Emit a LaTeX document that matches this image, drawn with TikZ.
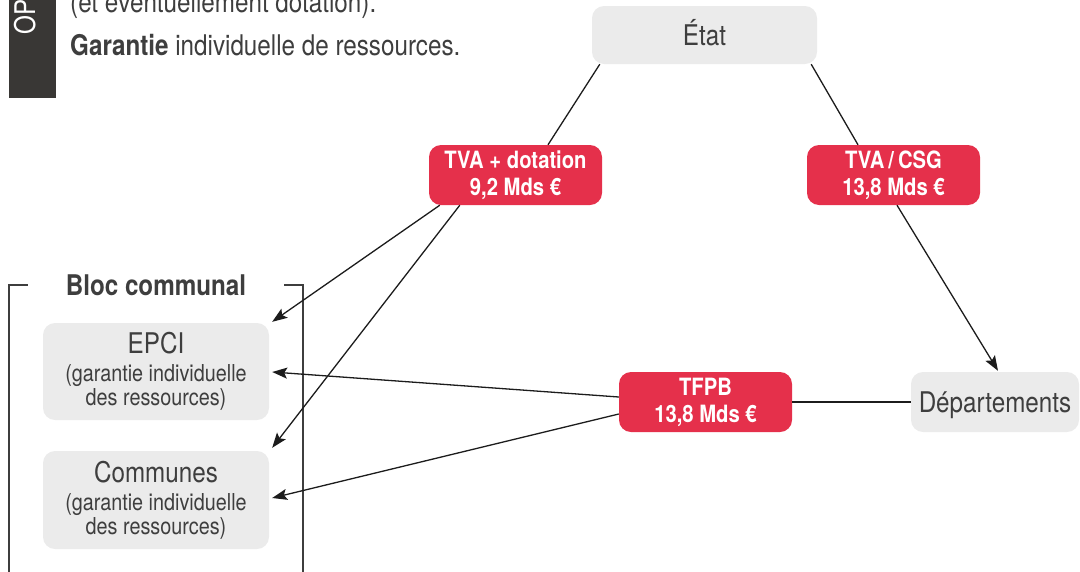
\documentclass[tikz,border=0pt]{standalone}
\usepackage{fontspec}
\setmainfont[FakeStretch=0.85]{TeX Gyre Heros}
\usetikzlibrary{arrows.meta,calc}
\definecolor{flowred}{HTML}{E5304B}
\definecolor{boxgray}{HTML}{EBEBEB}
\definecolor{inkgray}{HTML}{3E3E3E}
\definecolor{tabgray}{HTML}{393735}
\definecolor{linegray}{HTML}{1C1C1C}
\newcommand\labelfont{\fontsize{28.5}{28}\selectfont}
\newcommand\notefont{\fontsize{23.3}{24}\selectfont}
\tikzset{
  entity/.style={draw=none, fill=boxgray, rounded corners=12pt, text=inkgray,
    font=\labelfont, align=center, inner sep=0pt},
  oneline/.style={text height=20.5pt, text depth=0pt},
  flowbox/.style={draw=none, fill=flowred, rounded corners=12pt, text=white,
    font=\bfseries\fontsize{23.8}{27}\selectfont, align=center, inner sep=0pt,
    minimum width=173pt, minimum height=60pt},
  link/.style={draw=linegray, line width=1.3pt},
  flow/.style={link, -{Stealth[length=15pt,width=11pt,inset=3pt]}},
  bracket/.style={draw=inkgray, line width=1.2pt},
  heading/.style={anchor=base west, inner sep=0pt, text=inkgray, font=\labelfont}
}
\begin{document}
\begin{tikzpicture}[x=1pt,y=-1pt]
\useasboundingbox (0,0) rectangle (1080,571);
\clip (0,0) rectangle (1080,571);

% side tab and heading lines
\fill[tabgray] (9,0) rectangle (56,98);
\node[rotate=90, anchor=base west, inner sep=0pt, text=white,
  font=\labelfont] (tab) at (35,35) {OP};
\node[heading] (lead) at (70,12) {(et éventuellement dotation).};
\node[heading] (guarantee) at (70,55) {\textbf{Garantie} individuelle de ressources.};

% actors
\node[entity, oneline, minimum width=225pt, minimum height=58pt] (etat) at (704.5,35) {État};
\node[entity, oneline, minimum width=168pt, minimum height=60pt] (dep) at (995,402) {Départements};
\node[entity, minimum width=226pt, minimum height=97pt] (epci) at (156,371.5)
  {EPCI\\{\notefont (garantie individuelle}\\[-4pt]{\notefont des ressources)}};
\node[entity, minimum width=226pt, minimum height=98pt] (comm) at (156,500)
  {Communes\\{\notefont (garantie individuelle}\\[-4pt]{\notefont des ressources)}};

% transfers
\node[flowbox] (tvad) at (515.5,175) {TVA + dotation\\9,2 Mds €};
\node[flowbox] (tvac) at (893.5,175) {TVA\,/\,CSG\\13,8 Mds €};
\node[flowbox] (tfpb) at (705.5,402) {TFPB\\13,8 Mds €};

% municipal block bracket
\node[font=\bfseries\labelfont, text=inkgray, inner sep=0pt, oneline]
  (bloc) at (156,285) {Bloc communal};
\draw[bracket] ($(bloc.west)+(-38,0)$) coordinate (bl) -- (9,285) -- (9,575);
\draw[bracket] ($(bloc.east)+(38,0)$) coordinate (br) -- (303,285) -- (303,575);

% connectors
\draw[link] ($(etat.south west)+(8,0)$) -- ($(tvad.north)+(32.5,0)$);
\draw[link] ($(etat.south east)+(-6,0)$) -- ($(tvac.north)+(-35.5,0)$);
\draw[flow] ($(tvad.south west)+(11,0)$) -- ($(epci.north east)+(3,-1)$);
\draw[flow] ($(tvad.south west)+(31,0)$) -- ($(comm.north east)+(3,-3)$);
\draw[flow] ($(tvac.south)+(3.5,0)$) -- ($(dep.north)+(3,-1)$);
\draw[flow] ($(tfpb.west)+(0,-5)$) -- ($(epci.east)+(3,0.5)$);
\draw[flow] ($(tfpb.west)+(0,12)$) -- ($(comm.east)+(3,-2)$);
\draw[link] (tfpb.east) -- (dep.west);
\end{tikzpicture}
\end{document}
